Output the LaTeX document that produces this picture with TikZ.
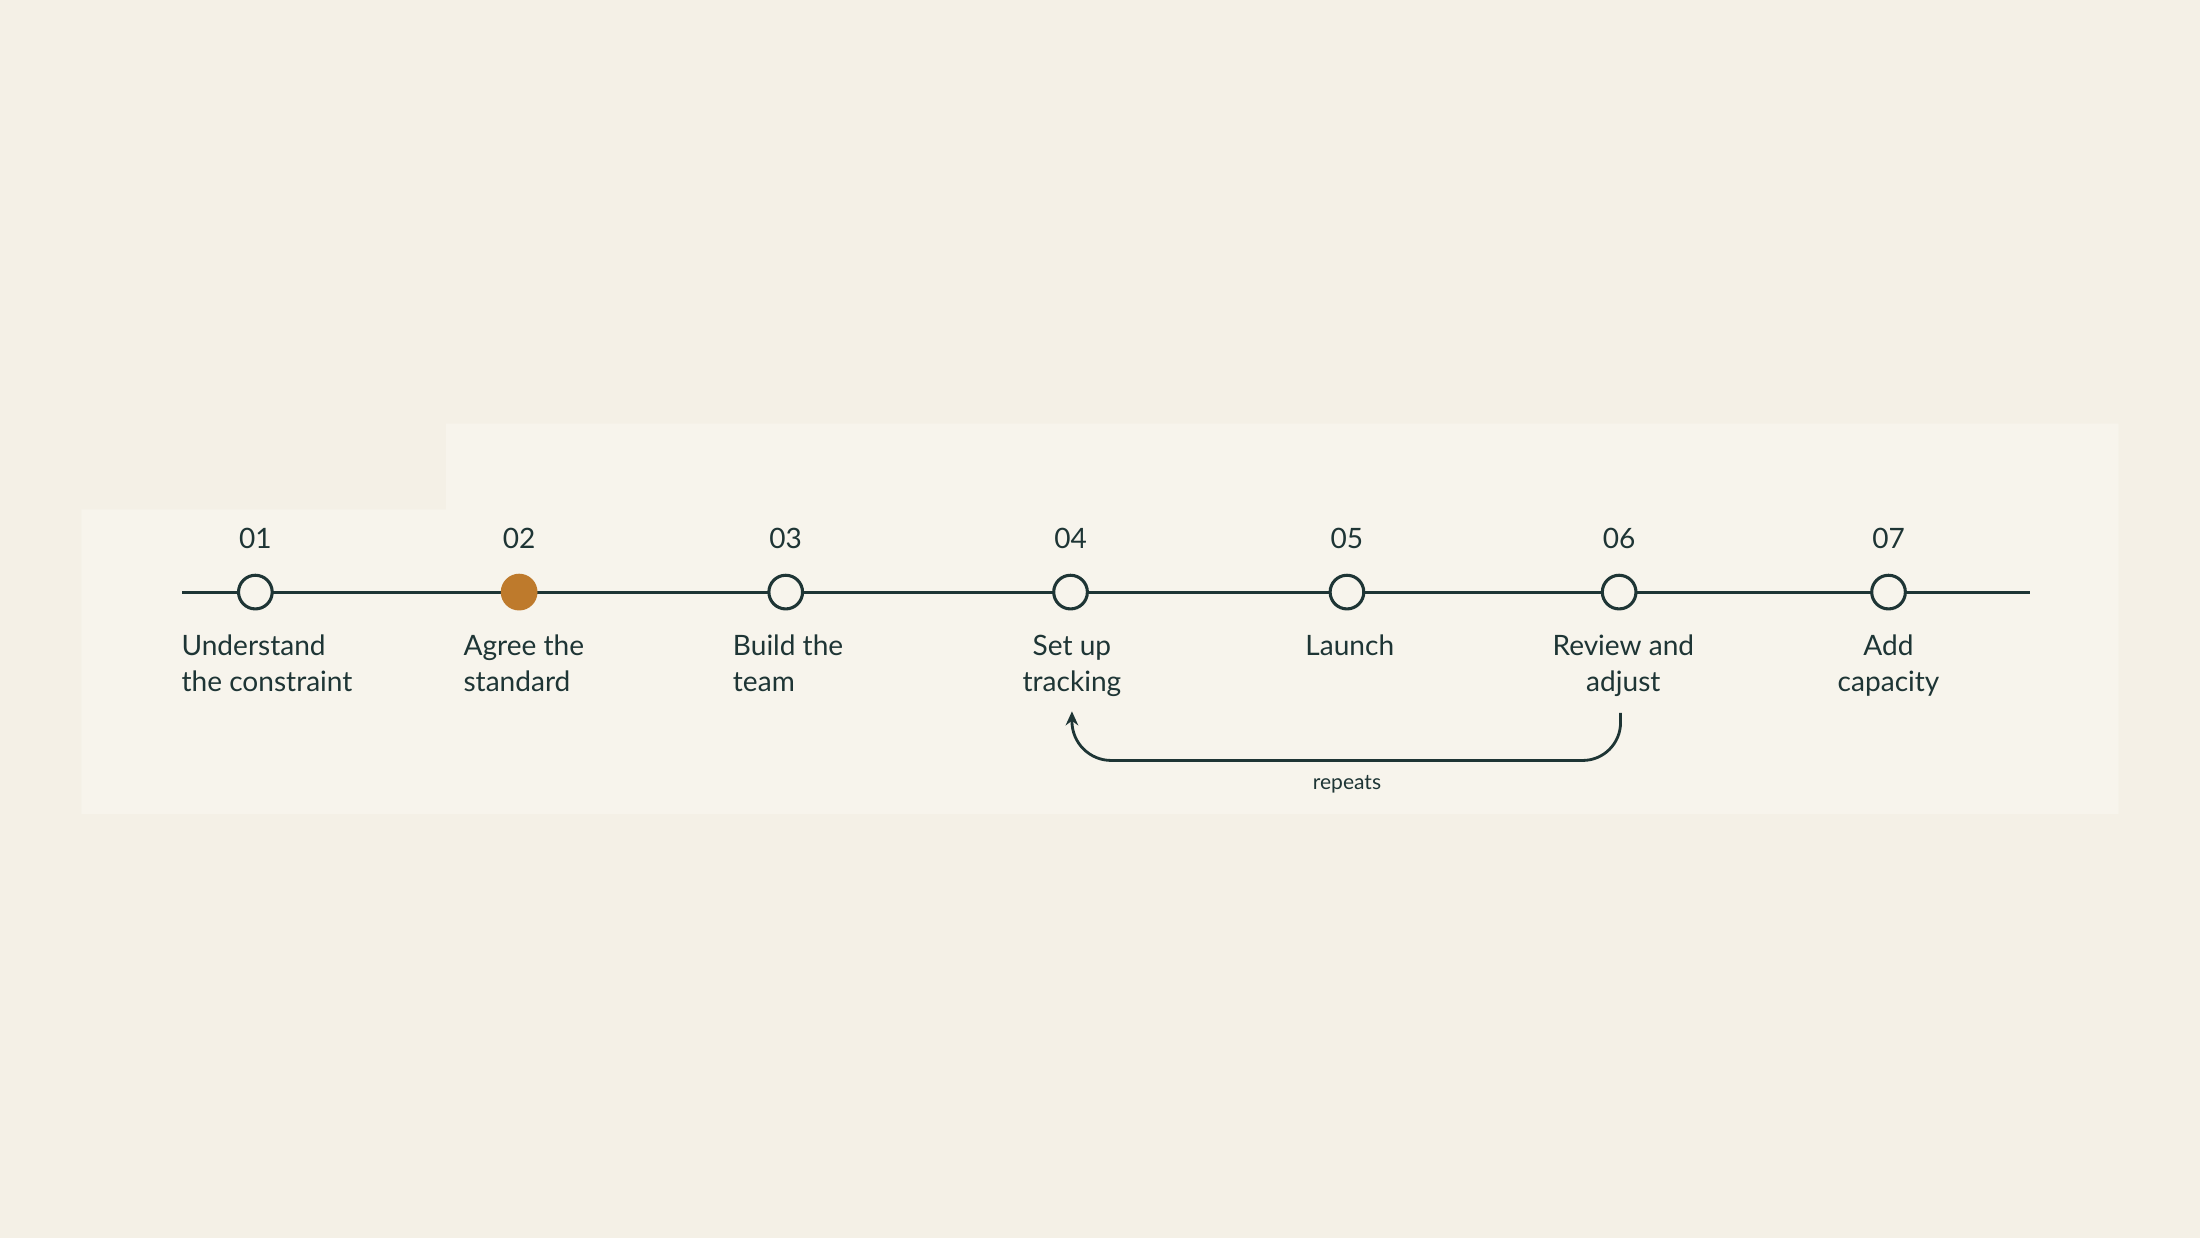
\documentclass[tikz,border=0pt]{standalone}
\usepackage{fontspec}
\setmainfont{Lato}
\usetikzlibrary{arrows.meta}
\definecolor{bgcol}{HTML}{F4F0E6}
\definecolor{panel}{HTML}{F7F4EC}
\definecolor{ink}{HTML}{1E3535}
\definecolor{accent}{HTML}{BE7A2C}
\begin{document}
\begin{tikzpicture}[x=0.5pt,y=-0.5pt]
    \tikzset{milestone/.style={circle,draw=ink,line width=1.1pt,fill=panel,minimum size=12pt,inner sep=0pt},
             num/.style={font=\fontsize{10}{11}\selectfont,text=ink},
             lbl/.style={font=\fontsize{10}{13}\selectfont,text=ink,anchor=north,inner sep=0pt}}
    \fill [bgcol] (0,0) rectangle (1568,882);
    \useasboundingbox (0,0) rectangle (1568,882);
    \fill [panel] (58,363) -- (318,363) -- (318,302) -- (1510,302) -- (1510,580) -- (58,580) -- cycle;
    \coordinate (start) at (130,422);
    \coordinate (end) at (1447,422);
    \draw [ink,line width=1.1pt] (start) -- (end);
    \node [milestone] (s1) at (182,422) {};
    \node [milestone,fill=accent,draw=accent] (s2) at (370,422) {};
    \node [milestone] (s3) at (560,422) {};
    \node [milestone] (s4) at (763,422) {};
    \node [milestone] (s5) at (960,422) {};
    \node [milestone] (s6) at (1154,422) {};
    \node [milestone] (s7) at (1346,422) {};
    \node [num] (n1) at (182,384) {01};
    \node [num] (n2) at (370,384) {02};
    \node [num] (n3) at (560,384) {03};
    \node [num] (n4) at (763,384) {04};
    \node [num] (n5) at (960,384) {05};
    \node [num] (n6) at (1154,384) {06};
    \node [num] (n7) at (1346,384) {07};
    \node [lbl,anchor=north west,align=left] (l1) at (129,452) {Understand\\the constraint};
    \node [lbl,anchor=north west,align=left] (l2) at (330,452) {Agree the\\standard};
    \node [lbl,anchor=north west,align=left] (l3) at (522,452) {Build the\\team};
    \node [lbl,align=center] (l4) at (764,452) {Set up\\tracking};
    \node [lbl,align=center] (l5) at (962,452) {Launch};
    \node [lbl,align=center] (l6) at (1157,452) {Review and\\adjust};
    \node [lbl,align=center] (l7) at (1346,452) {Add\\capacity};
    \coordinate (from) at (1155,508);
    \coordinate (to) at (764,507);
    \draw [ink,line width=1pt,-{Stealth[length=5pt,width=4.5pt]}] (from) -- (1155,515)
        arc (0:90:27) -- (792,542) arc (90:180:28) -- (to);
    \node [font=\fontsize{7.5}{9}\selectfont,text=ink] (rep) at (960,559) {repeats};
\end{tikzpicture}
\end{document}
